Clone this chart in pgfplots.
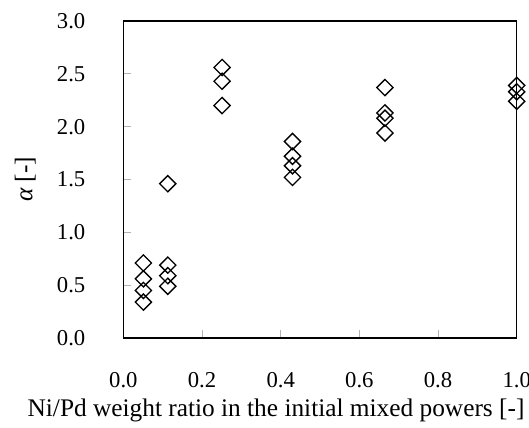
\documentclass[border=0pt]{standalone}
\usepackage{pgfplots}
\pgfplotsset{compat=1.18}
\usetikzlibrary{calc}
\usepackage{fontspec}
\setmainfont{Liberation Serif}
\begin{document}
\begin{tikzpicture}
\begin{axis}[
  scale only axis,
  width=295pt, height=237.75pt,
  xmin=0, xmax=1.0, ymin=0, ymax=3.0,
  xtick={0,0.2,...,1.0}, ytick={0,0.5,...,3.0},
  minor tick num=0,
  tick align=inside,
  xtick pos=bottom, ytick pos=left,
  major tick length=6pt,
  tick style={gray!60, line width=0.6pt},
  axis line style={line width=1pt},
  /pgf/number format/assume math mode=true,
  /pgf/number format/fixed, /pgf/number format/fixed zerofill, /pgf/number format/precision=1,
  ticklabel style={font=\fontsize{17}{19}\selectfont},
  xticklabel style={yshift=-22pt},
  yticklabel style={xshift=-25pt},
  xlabel={Ni/Pd weight ratio in the initial mixed powers [-]},
  ylabel={{\itshape α} [-]},
  label style={font=\fontsize{19}{21}\selectfont},
  xlabel style={yshift=-2pt, xshift=-33pt},
  ylabel style={yshift=9pt},
  clip=false,
]
\addplot[only marks, mark=square, mark size=4.3pt, mark options={rotate=45, line width=1pt, fill=white, draw=black}] coordinates {
(0.051,0.71) (0.051,0.56) (0.051,0.45) (0.051,0.34)
(0.113,1.46) (0.113,0.69) (0.113,0.59) (0.113,0.49)
(0.251,2.56) (0.251,2.43) (0.251,2.20)
(0.430,1.86) (0.430,1.72) (0.430,1.63) (0.430,1.52)
(0.665,2.37) (0.665,2.13) (0.665,2.08) (0.665,1.94)
(1.0,2.39) (1.0,2.33) (1.0,2.24)
};
\coordinate (SW) at (rel axis cs:0,0);
\coordinate (NE) at (rel axis cs:1,1);
\end{axis}
\pgfresetboundingbox
\path[use as bounding box] ($(SW)+(-92.5pt,-66.75pt)$) rectangle ($(NE)+(9.2pt,15.75pt)$);
\end{tikzpicture}
\end{document}
